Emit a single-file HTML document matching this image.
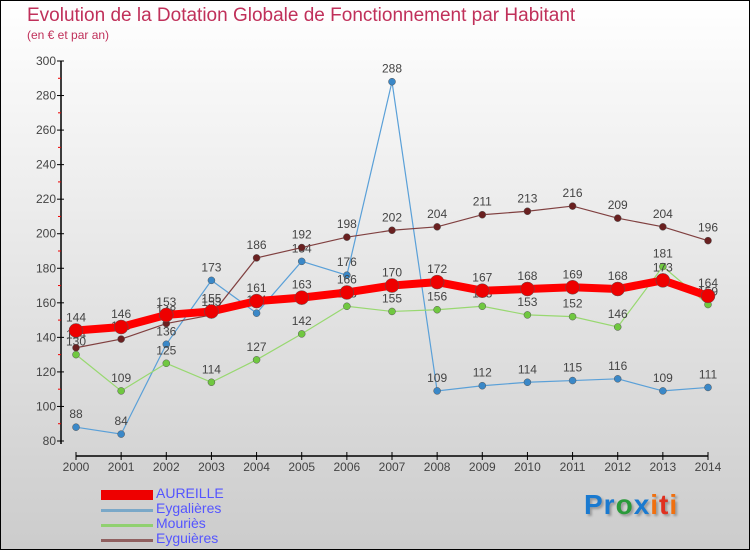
<!DOCTYPE html>
<html><head><meta charset="utf-8"><style>
body{margin:0}
#c{width:748px;height:548px;border:1px solid #000;background:linear-gradient(#fff,#ccc);position:relative;font-family:"Liberation Sans",sans-serif;overflow:hidden}
.t{position:absolute;left:26px;top:4px;font-size:19px;color:#c0305a}
.s{position:absolute;left:26px;top:27px;font-size:12px;color:#c0305a}
.lg{position:absolute;left:100px;font-size:14px;color:#5555ff;line-height:15px}
.sw{position:absolute;left:100px;width:52px}
</style></head><body>
<div id="c">
<div class="t">Evolution de la Dotation Globale de Fonctionnement par Habitant</div>
<div class="s">(en € et par an)</div>
<svg id="p" width="748" height="548" style="position:absolute;left:0;top:0"></svg>
<div class="sw" style="top:489px;height:10px;background:#e00"></div>
<div class="sw" style="top:508px;height:3px;background:#7aa8c8"></div>
<div class="sw" style="top:523px;height:3px;background:#90d070"></div>
<div class="sw" style="top:538px;height:3px;background:#906060"></div>
<div class="lg" style="left:155px;top:485px">AUREILLE</div>
<div class="lg" style="left:155px;top:500px">Eygalières</div>
<div class="lg" style="left:155px;top:515px">Mouriès</div>
<div class="lg" style="left:155px;top:530px">Eyguières</div>
<div style="position:absolute;left:583px;top:488px;font-size:28px;font-weight:bold;letter-spacing:1px;text-shadow:2px 2px 2px #999"><span style="color:#1a7ad0">Pr</span><span style="color:#2a9a3a">o</span><span style="color:#1a7ad0">x</span><span style="color:#f07010">i</span><span style="color:#e03020">t</span><span style="color:#f07010">i</span></div>
</div>
<script>
const years=[2000,2001,2002,2003,2004,2005,2006,2007,2008,2009,2010,2011,2012,2013,2014];
const aureille=[144,146,153,155,161,163,166,170,172,167,168,169,168,173,164];
const eygalieres=[88,84,136,173,154,184,176,288,109,112,114,115,116,109,111];
const mouries=[130,109,125,114,127,142,158,155,156,158,153,152,146,181,159];
const eyguieres=[134,139,148,153,186,192,198,202,204,211,213,216,209,204,196];
const yTicks=[80,100,120,140,160,180,200,220,240,260,280,300];
const NS="http://www.w3.org/2000/svg";
const svg=document.getElementById('p');
const X=i=>75+i*(707-75)/14;
const Y=v=>440-(v-80)*(380/220);
function el(t,a,p){const e=document.createElementNS(NS,t);for(const k in a)e.setAttribute(k,a[k]);(p||svg).appendChild(e);return e;}
let ax=el('line',{x1:60,y1:60,x2:60,y2:443,stroke:'#000','stroke-width':1.5});


let xa=el('line',{x1:75,y1:455,x2:707,y2:455,stroke:'#000','stroke-width':1.5});


yTicks.forEach(v=>{
  el('line',{x1:56,y1:Y(v),x2:63,y2:Y(v),stroke:'#000'});
  if(v<300)el('line',{x1:57,y1:Y(v+10),x2:60,y2:Y(v+10),stroke:'#e00'});
  let t=el('text',{x:55,y:Y(v)+4,'text-anchor':'end','font-size':12,fill:'#444'});
  t.textContent=v;
  
  
});
years.forEach((y,i)=>{
  el('line',{x1:X(i),y1:451,x2:X(i),y2:459,stroke:'#000'});
  let t=el('text',{x:X(i),y:470,'text-anchor':'middle','font-size':12,fill:'#444'});
  t.textContent=y;
  
  
});
function series(data,name,color,dot,w,r){
  const g=el('g',{});
  
  
  el('polyline',{points:data.map((v,i)=>X(i)+','+Y(v)).join(' '),fill:'none',stroke:color,'stroke-width':w},g);
  data.forEach((v,i)=>{
    const c=el('circle',{cx:X(i),cy:Y(v),r:r,fill:dot,stroke:'#555','stroke-width':0.5},g);
    
    
    const t=el('text',{x:X(i),y:Y(v)-9,'text-anchor':'middle','font-size':12,fill:'#444'},g);
    t.textContent=v;
  });
}
series(eygalieres,'eygalieres','#5aa0d8','#3a88c8',1.2,3.5);
series(mouries,'mouries','#98d870','#70c840',1.2,3.5);
series(eyguieres,'eyguieres','#804040','#6a2020',1.2,3.5);
series(aureille,'aureille','#f00','#e00',8,7);
</script>
</body></html>
